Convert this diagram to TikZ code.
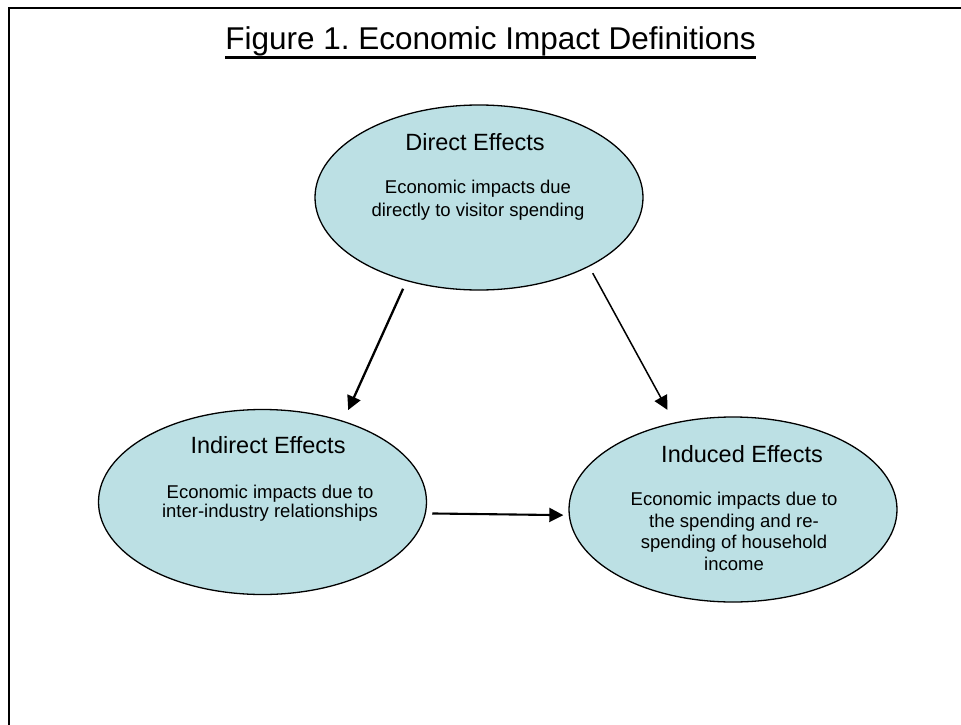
\documentclass[tikz,border=0pt]{standalone}
\usepackage{fontspec}
\setmainfont{Liberation Sans}
\usetikzlibrary{shapes.geometric,arrows.meta}
\definecolor{effectfill}{RGB}{188,224,228}
\frenchspacing

\tikzstyle{effect} = [ellipse, draw, line width=1.3pt, fill=effectfill, minimum width=328pt, minimum height=185pt, inner sep=0pt, outer sep=0pt]
\tikzstyle{head} = [font=\fontsize{23.5}{28}\selectfont, anchor=base, inner sep=0pt]
\tikzstyle{body} = [font=\fontsize{18.5}{21.5}\selectfont, align=center, anchor=north, inner sep=0pt]
\tikzstyle{link} = [-{Triangle[length=14pt,width=14pt]}, line width=2.3pt]

\begin{document}
\begin{tikzpicture}[x=1pt, y=-1pt]
\useasboundingbox (0,0) rectangle (961,725);
% frame edges
\draw[line width=2pt] (9,725) -- (9,8) -- (961,8);

% title
\node[font=\fontsize{31.5}{36}\selectfont, anchor=base, inner sep=0pt] (title) at (490.5,49.5) {Figure 1. Economic Impact Definitions};
\draw[line width=2.6pt] ([yshift=-8pt]title.base west) -- ([yshift=-8pt]title.base east);

% the three effects
\node[effect] (direct) at (479,197.5) {};
\node[head] (direct-head) at (475,150) {Direct Effects};
\node[body, font=\fontsize{18.5}{23}\selectfont] (direct-body) at (478,180) {Economic impacts due\\directly to visitor spending};

\node[effect] (indirect) at (262.5,502) {};
\node[head] (indirect-head) at (268,453) {Indirect Effects};
\node[body, font=\fontsize{18.5}{19}\selectfont] (indirect-body) at (270,485) {Economic impacts due to\\inter-industry relationships};

\node[effect] (induced) at (733,509.5) {};
\node[head] (induced-head) at (742,462) {Induced Effects};
\node[body] (induced-body) at (734,492) {Economic impacts due to\\the spending and re-\\spending of household\\income};

% arrows
\draw[link, shorten <=9pt, shorten >=12.5pt] (direct.229) -- (indirect.45.5);
\draw[link, line width=1.5pt, shorten <=8pt, shorten >=15pt] (direct.328) -- (induced.124);
\draw[link, line width=2.1pt, shorten <=7pt, shorten >=6pt] (indirect.-4) -- (induced.182);
\end{tikzpicture}
\end{document}
